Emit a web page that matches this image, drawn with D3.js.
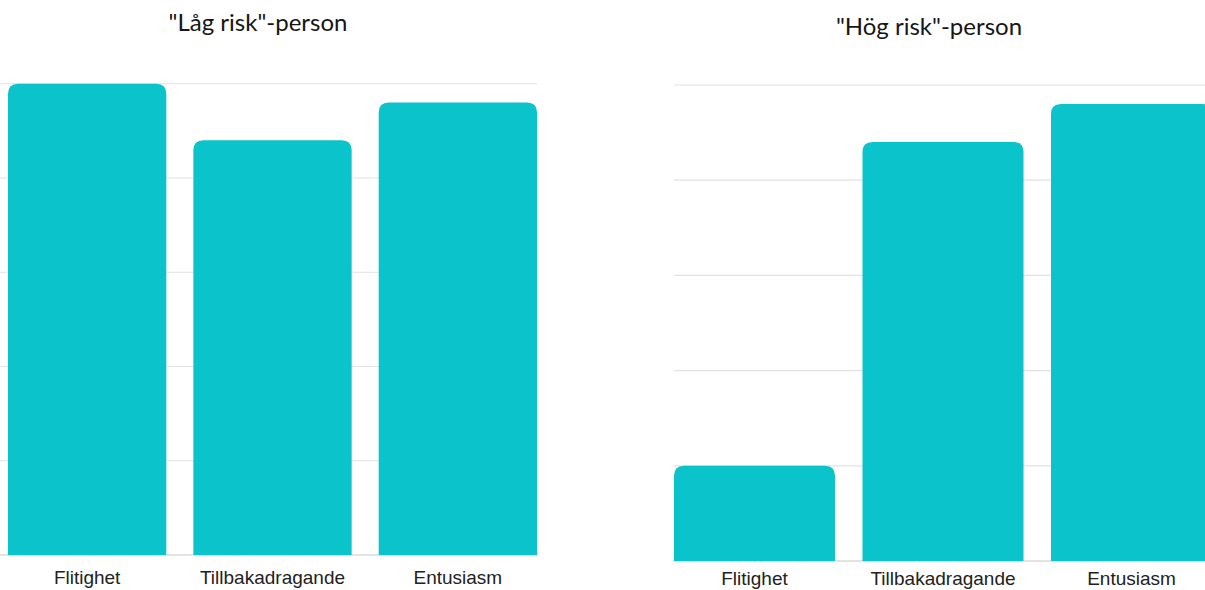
<!DOCTYPE html>
<html>
<head>
<meta charset="utf-8">
<script src="https://cdn.jsdelivr.net/npm/d3@7"></script>
<style>
  html, body { margin: 0; padding: 0; background: #ffffff; overflow: hidden; }
  svg { display: block; }
</style>
</head>
<body>
<svg id="chart" width="1205" height="590"></svg>
<script>
// ---- Data ----
const categories = ["Flitighet", "Tillbakadragande", "Entusiasm"];
const lowRiskValues = [5.0, 4.4, 4.8];
const highRiskValues = [1.0, 4.4, 4.8];
const yTicks = [0, 1, 2, 3, 4, 5];
const panelTitles = ['"Låg risk"-person', '"Hög risk"-person'];

// ---- Layout ----
const panels = [
  { title: panelTitles[0], values: lowRiskValues,
    bx0: 8, bx1: 537, yBase: 555, yTop: 83.75, gx0: 0, gx1: 537,
    titleX: 258, titleY: 31, labelY: 584 },
  { title: panelTitles[1], values: highRiskValues,
    bx0: 674, bx1: 1212, yBase: 561, yTop: 85, gx0: 674, gx1: 1205,
    titleX: 929, titleY: 35, labelY: 585 }
];

const barColor = "#0bc3cb";
const gridColor = "#e2e2e2";
const svg = d3.select("#chart");

function topRoundedRect(x, y, w, h, r) {
  r = Math.min(r, w / 2, h);
  return `M${x},${y + h}V${y + r}Q${x},${y} ${x + r},${y}H${x + w - r}Q${x + w},${y} ${x + w},${y + r}V${y + h}Z`;
}

panels.forEach(p => {
  const g = svg.append("g");
  const x = d3.scaleBand().domain(categories).range([p.bx0, p.bx1]).paddingInner(0.146).paddingOuter(0);
  const y = d3.scaleLinear().domain([0, 5]).range([p.yBase, p.yTop]);

  // gridlines
  g.selectAll("line.grid").data(yTicks).enter().append("line")
    .attr("class", "grid")
    .attr("x1", p.gx0).attr("x2", p.gx1)
    .attr("y1", d => y(d)).attr("y2", d => y(d))
    .attr("stroke", d => d === 0 ? "#c8c8c8" : gridColor)
    .attr("stroke-width", 1.2);

  // bars
  g.selectAll("path.bar").data(categories).enter().append("path")
    .attr("class", "bar")
    .attr("fill", barColor)
    .attr("d", (c, i) => topRoundedRect(x(c), y(p.values[i]), x.bandwidth(), y(0) - y(p.values[i]), 10));

  // category labels
  g.selectAll("text.cat").data(categories).enter().append("text")
    .attr("class", "cat")
    .attr("x", c => x(c) + x.bandwidth() / 2)
    .attr("y", p.labelY)
    .attr("text-anchor", "middle")
    .attr("font-family", "'Liberation Sans', Arial, sans-serif")
    .attr("font-size", 19)
    .attr("fill", "#222")
    .text(c => c);

  // title
  g.append("text")
    .attr("x", p.titleX).attr("y", p.titleY)
    .attr("text-anchor", "middle")
    .attr("font-family", "Lato, 'Open Sans', sans-serif")
    .attr("font-size", 24)
    .attr("fill", "#161616")
    .text(p.title);
});
</script>
</body>
</html>
